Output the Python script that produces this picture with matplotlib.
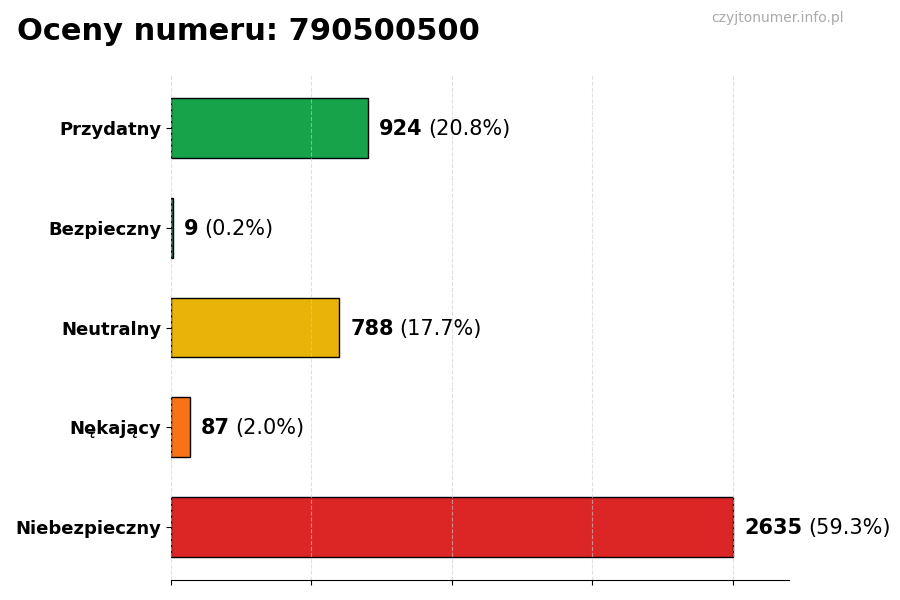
import matplotlib
matplotlib.use("Agg")
import matplotlib.pyplot as plt

categories = ["Przydatny", "Bezpieczny", "Neutralny", "Nękający", "Niebezpieczny"]
counts = [924, 9, 788, 87, 2635]
percents = ["20.8%", "0.2%", "17.7%", "2.0%", "59.3%"]
colors = ["#16a34a", "#2f7d5f", "#eab308", "#f97316", "#dc2626"]

fig = plt.figure(figsize=(9, 6), dpi=100)
ax = fig.add_axes([0.19, 0.0333, 0.6867, 0.8417])

ypos = list(range(len(categories)))
ax.barh(ypos, counts, height=0.6, color=colors, edgecolor="black", linewidth=1)
ax.invert_yaxis()
vmax = max(counts)
ax.set_xlim(0, vmax * 1.1)
ax.set_xticks([vmax * i / 4 for i in range(5)])
ax.set_xticklabels([])
ax.set_yticks(ypos)
ax.set_yticklabels(categories, fontsize=13, fontweight="bold")

ax.set_axisbelow(False)
ax.grid(axis="x", linestyle="--", color="#cccccc", alpha=0.6, linewidth=0.8)
for s in ["top", "right", "left"]:
    ax.spines[s].set_visible(False)

for y, c, p in zip(ypos, counts, percents):
    x = c + vmax * 0.02
    t = ax.text(x, y + 0.01, f"{c}", fontsize=15, fontweight="bold", va="center", ha="left")
    ax.annotate(f"({p})", xycoords=t, xy=(1, 0.5), xytext=(4, 0), textcoords="offset points",
                va="center", ha="left", fontsize=15)

fig.text(0.019, 0.947, "Oceny numeru: 790500500", fontsize=22, fontweight="bold", va="center", ha="left")
fig.text(0.938, 0.97, "czyjtonumer.info.pl", fontsize=10, color="#aaaaaa", va="center", ha="right")

fig.savefig("out.png", dpi=100)
